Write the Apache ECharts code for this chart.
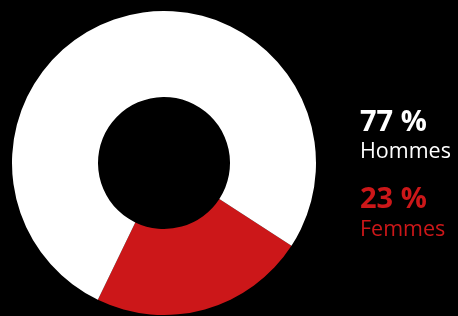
<!DOCTYPE html>
<html><head><meta charset="utf-8">
<script src="https://cdn.jsdelivr.net/npm/echarts@6/dist/echarts.min.js"></script>
<style>html,body{margin:0;padding:0;background:#000;}#c{width:458px;height:316px;}</style>
</head><body><div id="c"></div>
<script>
const categories = ['Femmes', 'Hommes'];
const values = [23, 77];
const labels = ['23 %', '77 %'];
const colors = ['#cc1719', '#ffffff'];

const chart = echarts.init(document.getElementById('c'));
chart.setOption({
  backgroundColor: '#000',
  animation: false,
  series: [{
    type: 'pie',
    center: [164, 163],
    radius: [66, 152],
    startAngle: -33,
    clockwise: true,
    label: {show: false},
    labelLine: {show: false},
    itemStyle: {borderWidth: 0},
    emphasis: {disabled: true},
    data: categories.map((c, i) => ({name: c, value: values[i], itemStyle: {color: colors[i]}}))
  }],
  graphic: [
    {type: 'text', left: 360, top: 108, style: {text: labels[1], fill: colors[1], font: 'bold 29px "Open Sans"'}},
    {type: 'text', left: 360, top: 141, style: {text: categories[1], fill: colors[1], font: '21.5px "Open Sans"'}},
    {type: 'text', left: 360, top: 185, style: {text: labels[0], fill: colors[0], font: 'bold 29px "Open Sans"'}},
    {type: 'text', left: 360, top: 219, style: {text: categories[0], fill: colors[0], font: '21.5px "Open Sans"'}}
  ]
});
</script></body></html>
